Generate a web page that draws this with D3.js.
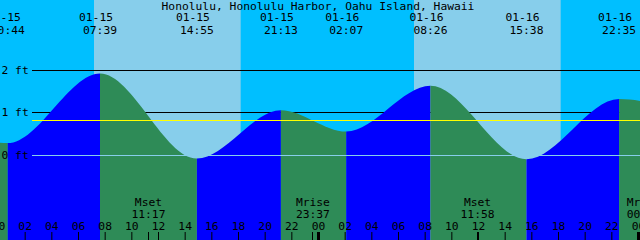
<!DOCTYPE html>
<html>
<head>
<meta charset="utf-8">
<script src="https://cdn.jsdelivr.net/npm/d3@7"></script>
<style>
  body { margin: 0; background: #fff; }
  svg { display: block; }
  text { font-family: "DejaVu Sans Mono", monospace; font-size: 11.3px; fill: #000; }
</style>
</head>
<body>
<script>
// tide extremes (feet)
const tideTimes = ["2024-01-14 18:30", "2024-01-15 00:44", "2024-01-15 07:39", "2024-01-15 14:55",
                   "2024-01-15 21:13", "2024-01-16 02:07", "2024-01-16 08:26", "2024-01-16 15:38",
                   "2024-01-16 22:35", "2024-01-17 04:30"];
const tideHeights = [1.0, 0.29, 1.92, -0.07, 1.06, 0.56, 1.63, -0.09, 1.32, 0.85];

const sunrises = ["2024-01-15 07:12", "2024-01-16 07:12"];
const sunsets  = ["2024-01-15 18:12", "2024-01-16 18:12"];

const moonTimes  = ["2024-01-15 11:17", "2024-01-15 23:37", "2024-01-16 11:58", "2024-01-17 00:26"];
const moonEvents = ["Mset", "Mrise", "Mset", "Mrise"];

const heightTicks = [0, 1, 2];
const meanLevel = 0.82;
const title = "Honolulu, Honolulu Harbor, Oahu Island, Hawaii";
const windowStart = "2024-01-15 00:09";
const windowEnd   = "2024-01-17 00:09";

const parse = d3.timeParse("%Y-%m-%d %H:%M");
const width = 640, height = 240;

const tide = tideTimes.map((t, i) => ({ t: parse(t), h: tideHeights[i] }));
const t0 = parse(windowStart), t1 = parse(windowEnd);

const x = d3.scaleTime().domain([t0, t1]).range([0, width]);
const y = d3.scaleLinear().domain([0, 2]).range([155.5, 70]);
const crisp = v => Math.floor(v) + 0.5;

const svg = d3.select("body").append("svg")
    .attr("width", width)
    .attr("height", height);

// night / day background
svg.append("rect")
    .attr("width", width).attr("height", height)
    .attr("fill", "#00bfff");

svg.selectAll("rect.day")
    .data(sunrises)
    .enter()
    .append("rect")
    .attr("class", "day")
    .attr("x", d => x(parse(d)))
    .attr("width", (d, i) => x(parse(sunsets[i])) - x(parse(d)))
    .attr("y", 0)
    .attr("height", height)
    .attr("fill", "#87ceeb");

// height grid lines behind the water (1 ft, 2 ft)
svg.selectAll("line.grid")
    .data(heightTicks.filter(d => d !== 0))
    .enter()
    .append("line")
    .attr("class", "grid")
    .attr("x1", 32).attr("x2", width)
    .attr("y1", d => crisp(y(d))).attr("y2", d => crisp(y(d)))
    .attr("stroke", "#000");

// water, coloured by rising / falling
const area = d3.area()
    .x(d => x(d.t))
    .y0(height)
    .y1(d => y(d.h))
    .curve(d3.curveMonotoneX);

svg.append("clipPath")
    .attr("id", "water")
    .append("path")
    .attr("d", area(tide));

svg.append("g")
    .attr("clip-path", "url(#water)")
    .selectAll("rect")
    .data(tide.slice(0, -1))
    .enter()
    .append("rect")
    .attr("x", d => x(d.t))
    .attr("width", (d, i) => x(tide[i + 1].t) - x(d.t))
    .attr("y", 0)
    .attr("height", height)
    .attr("fill", (d, i) => tide[i + 1].h > d.h ? "#0000ff" : "#2e8b57");

// datum and mean level lines on top
svg.append("line")
    .attr("x1", 32).attr("x2", width)
    .attr("y1", crisp(y(0))).attr("y2", crisp(y(0)))
    .attr("stroke", "#87ceeb");

svg.append("line")
    .attr("x1", 32).attr("x2", width)
    .attr("y1", crisp(y(meanLevel))).attr("y2", crisp(y(meanLevel)))
    .attr("stroke", "#ffff00");

svg.selectAll("text.ft")
    .data(heightTicks)
    .enter()
    .append("text")
    .attr("class", "ft")
    .attr("x", 1.5)
    .attr("y", d => crisp(y(d)) + 3.5)
    .text(d => d + " ft");

// title and high / low labels
svg.append("text")
    .attr("x", 318)
    .attr("y", 10)
    .attr("text-anchor", "middle")
    .text(title);

svg.selectAll("text.date")
    .data(tide)
    .enter()
    .append("text")
    .attr("class", "date")
    .attr("x", d => x(d.t) - 4)
    .attr("y", 21)
    .attr("text-anchor", "middle")
    .text(d => d3.timeFormat("%m-%d")(d.t));

svg.selectAll("text.time")
    .data(tide)
    .enter()
    .append("text")
    .attr("class", "time")
    .attr("x", d => x(d.t))
    .attr("y", 34)
    .attr("text-anchor", "middle")
    .text(d => d3.timeFormat("%H:%M")(d.t));

// hour axis along the bottom
const axis = svg.append("g")
    .attr("transform", `translate(0,${height})`)
    .call(d3.axisTop(x)
        .tickValues(d3.timeHour.range(d3.timeDay.floor(t0), t1, 2))
        .tickFormat(d3.timeFormat("%H"))
        .tickSize(8)
        .tickPadding(2));
axis.select(".domain").remove();
axis.attr("font-family", null).attr("font-size", null);
axis.selectAll("line").attr("stroke", "#000");

svg.selectAll("rect.midnight")
    .data(d3.timeDay.range(t0, t1))
    .enter()
    .append("rect")
    .attr("class", "midnight")
    .attr("x", d => Math.round(x(d)) - 1)
    .attr("y", 232)
    .attr("width", 3)
    .attr("height", 8)
    .attr("fill", "#000");

// moon rise / set
const moon = moonTimes.map((t, i) => ({ t: parse(t), name: moonEvents[i] }));

svg.selectAll("line.moon")
    .data(moon)
    .enter()
    .append("line")
    .attr("class", "moon")
    .attr("x1", d => crisp(x(d.t))).attr("x2", d => crisp(x(d.t)))
    .attr("y1", 232).attr("y2", height)
    .attr("stroke", "#000");

svg.selectAll("text.moonname")
    .data(moon)
    .enter()
    .append("text")
    .attr("class", "moonname")
    .attr("x", d => x(d.t))
    .attr("y", 206)
    .attr("text-anchor", "middle")
    .text(d => d.name);

svg.selectAll("text.moontime")
    .data(moon)
    .enter()
    .append("text")
    .attr("class", "moontime")
    .attr("x", d => x(d.t))
    .attr("y", 218)
    .attr("text-anchor", "middle")
    .text(d => d3.timeFormat("%H:%M")(d.t));
</script>
</body>
</html>
